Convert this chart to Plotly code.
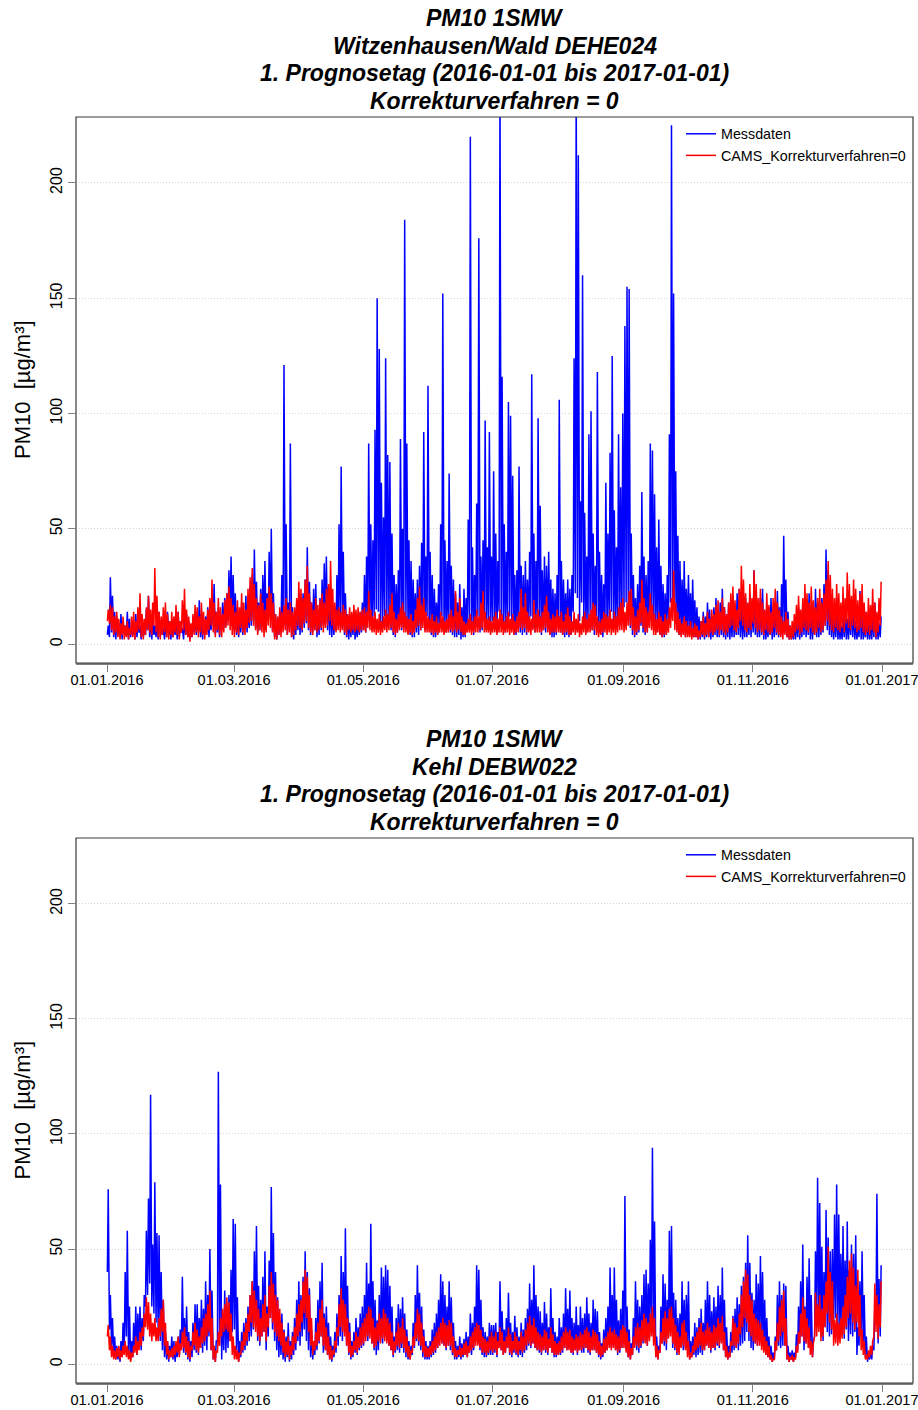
import datetime as dt
import plotly.graph_objects as go

JAHR = 2016

# ---------------------------------------------------------------------------
# Witzenhausen/Wald DEHE024: daily high / low of the hourly PM10 values,
# one inner list per month (Jan .. Dec)
# ---------------------------------------------------------------------------
mess_hoch_witz = [
    [8, 29, 21, 14, 12, 9, 13, 10, 8, 14, 11, 7, 9, 13, 10, 8, 12, 9, 15, 21, 13, 10, 8, 12, 14, 9, 7, 11, 14, 10, 9],
    [8, 12, 14, 9, 7, 11, 13, 10, 8, 12, 14, 9, 19, 13, 10, 12, 16, 11, 20, 26, 14, 16, 12, 18, 20, 22, 32, 38, 30],
    [22, 16, 13, 18, 14, 21, 16, 25, 30, 41, 27, 18, 24, 30, 36, 22, 40, 50, 22, 13, 10, 14, 30, 121, 52, 18, 87, 16, 12, 18, 22],
    [17, 22, 28, 42, 27, 18, 24, 26, 14, 20, 28, 35, 38, 25, 20, 14, 16, 30, 52, 77, 40, 22, 13, 11, 12, 14, 10, 12, 14, 18],
    [30, 38, 87, 52, 45, 93, 150, 128, 70, 55, 124, 82, 79, 48, 30, 26, 32, 89, 50, 184, 87, 45, 36, 28, 22, 28, 34, 44, 92, 38, 112],
    [40, 30, 24, 18, 26, 52, 152, 45, 36, 74, 34, 28, 22, 18, 26, 16, 24, 20, 54, 220, 42, 30, 61, 176, 38, 45, 97, 42, 92, 38],
    [75, 48, 36, 245, 116, 52, 40, 105, 99, 73, 30, 32, 77, 34, 30, 36, 28, 40, 117, 48, 36, 98, 60, 32, 38, 34, 40, 28, 24, 22, 30],
    [106, 36, 28, 22, 28, 24, 30, 124, 245, 212, 62, 160, 57, 38, 91, 101, 48, 34, 118, 40, 30, 26, 70, 48, 83, 125, 58, 42, 91, 68, 100],
    [138, 155, 154, 48, 30, 20, 26, 34, 66, 38, 30, 36, 87, 84, 65, 42, 54, 34, 26, 22, 30, 91, 225, 152, 75, 47, 36, 28, 36, 24],
    [30, 22, 28, 19, 16, 12, 10, 14, 12, 18, 15, 12, 16, 20, 14, 18, 24, 16, 12, 18, 14, 20, 16, 22, 24, 18, 14, 20, 16, 22, 18],
    [32, 22, 16, 20, 24, 14, 10, 16, 20, 14, 18, 23, 16, 26, 47, 28, 14, 8, 6, 9, 12, 16, 12, 18, 20, 15, 22, 14, 12, 24],
    [18, 15, 20, 26, 41, 32, 22, 16, 12, 18, 10, 8, 12, 16, 11, 14, 20, 16, 10, 8, 23, 12, 8, 14, 10, 9, 13, 18, 10, 9, 12],
]
mess_tief_witz = [
    [4, 3, 5, 3, 2, 4, 3, 2, 5, 4, 2, 3, 4, 2, 3, 5, 2, 3, 4, 6, 3, 2, 4, 3, 2, 3, 4, 2, 3, 4, 2],
    [3, 4, 2, 3, 5, 2, 4, 3, 2, 3, 5, 4, 6, 3, 2, 4, 5, 3, 6, 8, 4, 5, 3, 6, 7, 8, 10, 12, 8],
    [6, 4, 3, 5, 4, 6, 5, 7, 8, 10, 7, 5, 6, 8, 9, 6, 10, 12, 6, 3, 2, 4, 6, 8, 10, 4, 8, 3, 2, 4, 6],
    [4, 5, 7, 9, 6, 4, 5, 6, 3, 4, 6, 8, 9, 6, 4, 3, 4, 6, 8, 10, 7, 4, 3, 2, 3, 4, 2, 3, 4, 5],
    [6, 5, 10, 8, 6, 12, 15, 14, 8, 7, 12, 10, 9, 6, 4, 3, 5, 8, 6, 12, 10, 5, 4, 3, 3, 5, 4, 6, 10, 6, 12],
    [8, 4, 3, 3, 4, 7, 12, 6, 5, 8, 5, 4, 3, 3, 4, 2, 3, 3, 7, 10, 6, 4, 8, 12, 5, 6, 10, 6, 10, 5],
    [10, 6, 5, 14, 12, 7, 5, 10, 12, 9, 4, 4, 8, 5, 4, 5, 4, 6, 12, 7, 5, 10, 8, 4, 6, 5, 6, 4, 3, 3, 4],
    [10, 5, 4, 3, 4, 3, 4, 14, 22, 20, 10, 18, 9, 5, 10, 12, 6, 4, 12, 5, 4, 3, 8, 6, 10, 14, 8, 6, 10, 8, 12],
    [16, 18, 15, 7, 4, 3, 4, 5, 8, 5, 4, 5, 10, 10, 8, 5, 7, 4, 3, 3, 4, 10, 18, 14, 9, 6, 4, 4, 5, 3],
    [5, 4, 4, 3, 3, 2, 2, 3, 2, 3, 3, 2, 3, 4, 3, 3, 4, 3, 2, 3, 2, 3, 3, 4, 4, 3, 2, 3, 3, 4, 3],
    [5, 4, 3, 3, 4, 2, 2, 3, 4, 2, 3, 4, 3, 4, 8, 5, 3, 2, 2, 2, 2, 3, 2, 3, 4, 3, 4, 2, 2, 4],
    [3, 3, 4, 5, 8, 6, 4, 3, 2, 3, 2, 2, 2, 3, 2, 2, 4, 3, 2, 2, 3, 2, 2, 3, 2, 2, 2, 3, 2, 2, 3],
]
cams_hoch_witz = [
    [15, 17, 16, 12, 14, 11, 9, 12, 8, 10, 7, 12, 14, 10, 16, 22, 13, 11, 16, 21, 15, 18, 33, 21, 14, 12, 16, 18, 13, 10, 14],
    [12, 17, 14, 10, 19, 24, 15, 12, 9, 13, 17, 16, 12, 18, 14, 11, 15, 20, 28, 18, 14, 20, 16, 13, 19, 22, 25, 20, 17],
    [14, 19, 16, 22, 18, 15, 24, 29, 33, 26, 20, 17, 22, 18, 15, 20, 25, 22, 18, 13, 12, 16, 14, 17, 20, 15, 18, 14, 16, 20, 27],
    [24, 20, 28, 34, 22, 18, 15, 20, 17, 19, 22, 18, 24, 26, 36, 24, 18, 15, 16, 14, 17, 15, 13, 16, 14, 17, 15, 16, 14, 15],
    [16, 14, 23, 15, 12, 14, 11, 13, 10, 12, 15, 13, 17, 22, 14, 11, 13, 16, 18, 14, 12, 11, 13, 10, 15, 20, 25, 17, 20, 14, 12],
    [11, 13, 10, 12, 9, 14, 12, 10, 11, 13, 15, 12, 23, 14, 20, 12, 10, 9, 11, 13, 10, 12, 15, 12, 18, 23, 14, 11, 12, 10],
    [12, 14, 11, 15, 13, 10, 12, 14, 11, 13, 10, 12, 14, 24, 16, 22, 14, 12, 11, 19, 13, 15, 12, 14, 17, 21, 14, 11, 13, 12, 15],
    [12, 14, 10, 13, 16, 12, 10, 14, 11, 13, 9, 12, 14, 11, 13, 15, 18, 17, 12, 10, 11, 14, 13, 12, 15, 11, 14, 12, 16, 18, 20],
    [14, 18, 23, 24, 16, 12, 15, 18, 28, 20, 16, 14, 22, 17, 13, 11, 14, 12, 10, 13, 11, 16, 20, 32, 18, 14, 11, 9, 12, 10],
    [8, 10, 7, 9, 8, 6, 10, 12, 9, 14, 11, 15, 13, 17, 19, 14, 20, 16, 13, 18, 22, 25, 19, 15, 24, 34, 28, 22, 18, 26, 20],
    [32, 26, 20, 24, 18, 15, 22, 17, 14, 20, 24, 18, 15, 12, 10, 14, 11, 8, 10, 13, 17, 21, 15, 20, 26, 22, 18, 25, 19, 16],
    [20, 24, 18, 22, 28, 36, 30, 24, 20, 26, 22, 18, 25, 20, 31, 26, 21, 28, 24, 19, 22, 26, 18, 14, 20, 17, 24, 18, 14, 20, 27],
]
cams_tief_witz = [
    [10, 9, 6, 4, 5, 3, 2, 4, 2, 3, 2, 4, 3, 2, 5, 6, 3, 2, 4, 6, 5, 4, 8, 5, 3, 2, 4, 5, 3, 2, 4],
    [3, 5, 4, 2, 5, 6, 4, 3, 1, 3, 4, 5, 3, 5, 4, 2, 4, 6, 8, 5, 3, 6, 4, 3, 5, 7, 8, 6, 4],
    [3, 5, 4, 7, 5, 4, 7, 9, 10, 8, 6, 4, 6, 5, 3, 5, 8, 7, 5, 2, 2, 4, 3, 5, 6, 4, 5, 3, 4, 6, 8],
    [7, 6, 9, 10, 7, 5, 4, 6, 5, 6, 7, 5, 7, 8, 10, 8, 6, 5, 6, 5, 6, 5, 4, 6, 5, 6, 5, 6, 5, 6],
    [6, 5, 7, 6, 5, 5, 4, 5, 4, 5, 6, 5, 6, 7, 5, 4, 5, 6, 7, 5, 5, 4, 5, 4, 5, 7, 8, 6, 7, 5, 5],
    [5, 5, 4, 5, 4, 5, 5, 4, 5, 5, 6, 5, 6, 5, 6, 5, 4, 4, 5, 5, 4, 5, 5, 5, 6, 7, 5, 5, 5, 4],
    [5, 5, 4, 5, 5, 4, 5, 5, 4, 5, 4, 5, 5, 7, 6, 7, 5, 5, 4, 6, 5, 5, 5, 5, 6, 7, 5, 4, 5, 5, 5],
    [5, 5, 4, 5, 5, 4, 4, 5, 4, 5, 3, 4, 5, 4, 5, 5, 6, 6, 4, 3, 4, 5, 5, 4, 5, 4, 5, 4, 5, 6, 6],
    [5, 6, 8, 8, 6, 4, 5, 6, 9, 7, 5, 5, 7, 6, 4, 4, 5, 4, 3, 4, 4, 5, 7, 10, 6, 5, 4, 3, 4, 3],
    [3, 3, 2, 3, 3, 2, 3, 4, 3, 4, 3, 5, 4, 5, 6, 4, 6, 5, 4, 5, 7, 8, 6, 5, 7, 10, 8, 6, 5, 7, 6],
    [9, 7, 5, 6, 5, 4, 6, 5, 4, 5, 7, 5, 4, 3, 2, 4, 3, 2, 2, 3, 5, 6, 4, 5, 7, 6, 5, 7, 5, 4],
    [5, 7, 5, 6, 8, 10, 8, 6, 5, 7, 6, 5, 7, 5, 9, 7, 6, 8, 7, 5, 6, 7, 5, 4, 5, 4, 6, 5, 3, 5, 8],
]

# ---------------------------------------------------------------------------
# Kehl DEBW022: daily high / low of the hourly PM10 values, per month
# ---------------------------------------------------------------------------
mess_hoch_kehl = [
    [76, 30, 20, 12, 8, 7, 10, 18, 40, 58, 25, 10, 18, 25, 22, 25, 20, 30, 58, 72, 117, 52, 79, 57, 56, 40, 28, 14, 10, 8, 12],
    [10, 7, 12, 15, 38, 20, 25, 14, 10, 18, 26, 26, 20, 28, 24, 36, 30, 50, 32, 8, 10, 127, 78, 22, 32, 25, 30, 41, 63],
    [61, 29, 10, 14, 18, 20, 25, 30, 36, 49, 60, 34, 28, 38, 49, 25, 45, 77, 57, 40, 29, 19, 22, 15, 12, 18, 10, 14, 20, 28, 36],
    [30, 38, 49, 40, 33, 15, 8, 20, 28, 36, 44, 22, 25, 18, 12, 8, 14, 22, 30, 47, 40, 59, 34, 18, 10, 14, 20, 16, 22, 25],
    [30, 44, 35, 61, 36, 28, 19, 30, 42, 38, 43, 41, 34, 25, 12, 20, 26, 24, 29, 22, 15, 10, 8, 18, 30, 43, 31, 25, 15, 10, 8],
    [10, 15, 18, 22, 28, 39, 36, 30, 25, 36, 29, 18, 10, 8, 12, 9, 11, 14, 12, 22, 18, 25, 43, 41, 28, 16, 14, 12, 18, 17],
    [17, 18, 14, 36, 23, 15, 20, 31, 18, 14, 21, 16, 12, 18, 15, 20, 24, 35, 28, 43, 30, 25, 23, 18, 27, 22, 16, 33, 20, 14, 12],
    [20, 16, 22, 33, 24, 32, 20, 18, 25, 17, 25, 20, 22, 29, 22, 18, 28, 24, 23, 14, 9, 15, 20, 25, 42, 30, 42, 28, 19, 24, 32],
    [73, 25, 15, 9, 20, 36, 28, 25, 30, 39, 41, 35, 54, 94, 62, 12, 8, 25, 39, 35, 28, 58, 60, 31, 28, 20, 22, 36, 28, 30],
    [36, 10, 12, 18, 16, 20, 24, 18, 28, 36, 30, 23, 29, 25, 34, 30, 42, 28, 16, 8, 14, 21, 24, 29, 26, 34, 38, 44, 56, 44, 31],
    [28, 39, 35, 47, 40, 28, 20, 12, 8, 5, 12, 30, 36, 30, 35, 34, 8, 5, 6, 5, 13, 25, 36, 52, 25, 38, 46, 30, 10, 49],
    [81, 70, 51, 40, 67, 55, 49, 50, 65, 78, 65, 48, 60, 45, 62, 41, 52, 48, 56, 16, 36, 49, 30, 12, 5, 6, 8, 25, 74, 37, 43],
]
mess_tief_kehl = [
    [40, 15, 8, 4, 2, 2, 1, 3, 6, 12, 4, 2, 3, 6, 4, 8, 6, 10, 25, 30, 35, 25, 22, 18, 15, 10, 6, 3, 2, 1, 3],
    [2, 1, 3, 4, 8, 5, 4, 2, 1, 3, 6, 5, 4, 7, 5, 8, 6, 12, 6, 2, 1, 10, 8, 2, 6, 5, 7, 10, 14],
    [15, 6, 1, 3, 5, 6, 8, 10, 12, 15, 18, 10, 8, 12, 14, 6, 12, 20, 15, 10, 6, 3, 4, 2, 1, 3, 1, 2, 4, 6, 10],
    [8, 12, 15, 10, 6, 3, 2, 4, 6, 9, 12, 5, 6, 4, 2, 1, 3, 5, 8, 12, 10, 14, 8, 4, 2, 3, 5, 4, 6, 7],
    [8, 12, 10, 15, 9, 6, 4, 6, 10, 9, 12, 10, 8, 6, 3, 5, 6, 5, 7, 5, 3, 2, 2, 4, 7, 10, 8, 6, 3, 2, 2],
    [2, 3, 4, 5, 7, 10, 9, 8, 6, 8, 6, 4, 2, 2, 3, 2, 3, 4, 3, 5, 4, 6, 10, 9, 6, 4, 3, 3, 4, 4],
    [4, 5, 3, 8, 6, 4, 5, 7, 4, 3, 5, 4, 3, 4, 3, 5, 6, 8, 7, 9, 7, 6, 5, 4, 6, 5, 4, 7, 5, 3, 3],
    [4, 4, 5, 7, 6, 7, 5, 4, 6, 4, 6, 5, 5, 7, 5, 4, 6, 6, 5, 3, 2, 3, 5, 6, 9, 7, 9, 6, 4, 5, 7],
    [12, 6, 3, 2, 4, 8, 6, 5, 7, 9, 10, 8, 12, 18, 12, 3, 2, 5, 9, 8, 6, 12, 14, 7, 6, 4, 5, 8, 6, 7],
    [8, 2, 3, 4, 3, 4, 5, 4, 6, 8, 7, 5, 7, 6, 8, 7, 10, 6, 3, 2, 3, 5, 6, 7, 6, 8, 9, 10, 14, 10, 7],
    [6, 9, 8, 12, 10, 6, 4, 3, 2, 1, 2, 6, 8, 7, 8, 8, 2, 1, 2, 1, 3, 6, 9, 12, 6, 9, 11, 7, 3, 12],
    [20, 18, 12, 10, 16, 14, 12, 13, 15, 20, 16, 12, 15, 11, 15, 10, 13, 12, 14, 4, 8, 12, 8, 3, 1, 2, 2, 6, 18, 9, 12],
]
cams_hoch_kehl = [
    [17, 12, 8, 6, 7, 8, 6, 8, 10, 8, 6, 5, 8, 12, 10, 14, 16, 22, 29, 27, 22, 18, 20, 16, 20, 24, 28, 18, 10, 6, 7],
    [8, 10, 12, 9, 14, 16, 12, 10, 8, 14, 18, 15, 12, 16, 20, 22, 26, 32, 20, 8, 6, 14, 20, 24, 26, 29, 27, 22, 12],
    [8, 6, 5, 10, 14, 18, 22, 30, 36, 32, 28, 24, 20, 26, 30, 22, 34, 40, 35, 30, 28, 24, 18, 14, 10, 12, 8, 12, 16, 22, 26],
    [28, 36, 41, 38, 30, 20, 10, 14, 18, 24, 28, 20, 16, 12, 8, 6, 10, 16, 26, 33, 28, 26, 20, 14, 8, 10, 14, 12, 16, 18],
    [20, 22, 25, 24, 20, 16, 18, 22, 20, 24, 22, 20, 18, 14, 10, 14, 18, 16, 20, 15, 12, 8, 6, 12, 18, 24, 22, 18, 12, 8, 7],
    [8, 10, 12, 14, 16, 18, 20, 18, 17, 19, 18, 12, 7, 6, 8, 7, 9, 10, 8, 12, 14, 16, 18, 17, 15, 12, 11, 10, 12, 14],
    [12, 14, 10, 16, 14, 10, 12, 16, 13, 10, 14, 12, 10, 14, 12, 15, 18, 21, 17, 20, 16, 14, 13, 12, 15, 14, 11, 16, 13, 10, 9],
    [10, 12, 14, 16, 14, 15, 12, 11, 13, 12, 14, 13, 15, 16, 14, 12, 15, 14, 13, 10, 8, 11, 12, 14, 16, 14, 15, 13, 12, 15, 17],
    [16, 14, 10, 7, 12, 16, 18, 16, 19, 22, 20, 18, 22, 25, 20, 8, 6, 14, 20, 23, 20, 24, 25, 20, 17, 14, 12, 18, 19, 14],
    [10, 5, 8, 12, 14, 16, 18, 14, 15, 18, 16, 14, 17, 16, 20, 18, 21, 14, 8, 5, 10, 20, 18, 16, 22, 30, 36, 41, 39, 30, 28],
    [22, 20, 19, 18, 15, 12, 10, 8, 4, 2, 10, 18, 25, 28, 32, 20, 4, 3, 4, 3, 8, 14, 22, 29, 24, 20, 16, 10, 9, 31],
    [26, 30, 24, 30, 36, 51, 40, 36, 19, 22, 18, 20, 25, 30, 38, 45, 48, 42, 34, 41, 30, 15, 10, 4, 6, 8, 10, 35, 30, 26, 36],
]
cams_tief_kehl = [
    [12, 6, 3, 2, 2, 3, 2, 3, 4, 3, 2, 1, 3, 5, 4, 6, 8, 12, 16, 15, 12, 10, 12, 10, 10, 12, 14, 8, 4, 2, 3],
    [3, 4, 5, 3, 6, 7, 5, 3, 2, 6, 8, 6, 5, 7, 9, 10, 12, 14, 6, 2, 1, 5, 8, 12, 14, 15, 14, 10, 4],
    [2, 2, 1, 4, 6, 8, 10, 14, 18, 16, 14, 12, 10, 12, 14, 10, 16, 20, 18, 14, 12, 10, 8, 5, 3, 4, 2, 4, 6, 9, 12],
    [14, 18, 22, 20, 14, 8, 4, 6, 8, 10, 12, 8, 6, 4, 2, 2, 4, 7, 12, 16, 14, 12, 8, 5, 3, 4, 6, 5, 7, 8],
    [9, 10, 12, 11, 9, 7, 8, 10, 9, 11, 10, 9, 8, 6, 4, 6, 8, 7, 9, 7, 5, 3, 2, 5, 8, 11, 10, 8, 5, 3, 3],
    [3, 4, 5, 6, 7, 8, 9, 8, 7, 8, 8, 5, 3, 3, 4, 3, 4, 4, 3, 5, 6, 7, 8, 8, 7, 5, 5, 4, 5, 6],
    [5, 6, 4, 7, 6, 4, 5, 7, 5, 4, 6, 5, 4, 6, 5, 6, 8, 9, 8, 9, 7, 6, 6, 5, 6, 6, 5, 7, 5, 4, 4],
    [4, 5, 6, 7, 6, 6, 5, 5, 6, 5, 6, 6, 7, 7, 6, 5, 6, 6, 5, 4, 3, 4, 5, 6, 7, 6, 7, 6, 5, 6, 7],
    [7, 5, 3, 2, 4, 7, 8, 7, 8, 10, 9, 8, 10, 12, 8, 3, 2, 5, 9, 10, 9, 11, 12, 9, 7, 5, 4, 7, 8, 6],
    [3, 2, 3, 5, 6, 7, 8, 6, 6, 8, 7, 6, 7, 7, 9, 8, 9, 6, 3, 2, 3, 8, 8, 7, 9, 13, 16, 20, 18, 14, 12],
    [10, 9, 8, 8, 6, 5, 4, 3, 2, 1, 2, 6, 10, 12, 14, 8, 2, 1, 2, 1, 2, 5, 9, 12, 10, 9, 7, 4, 3, 12],
    [12, 14, 10, 12, 16, 22, 18, 15, 8, 9, 8, 9, 11, 13, 16, 20, 22, 18, 15, 18, 12, 6, 4, 2, 2, 3, 4, 12, 14, 11, 16],
]

# axis ticks and texts
x_ticks = ["2016-01-01", "2016-03-01", "2016-05-01", "2016-07-01", "2016-09-01", "2016-11-01", "2017-01-01"]
x_ticktext = ["01.01.2016", "01.03.2016", "01.05.2016", "01.07.2016", "01.09.2016", "01.11.2016", "01.01.2017"]
y_ticks = [0, 50, 100, 150, 200]
y_range = [-8.2, 228.6]

serien_namen = ["Messdaten", "CAMS_Korrekturverfahren=0"]
titel_witz = ["PM10 1SMW", "Witzenhausen/Wald DEHE024",
              "1. Prognosetag (2016-01-01 bis 2017-01-01)", "Korrekturverfahren = 0"]
titel_kehl = ["PM10 1SMW", "Kehl DEBW022",
              "1. Prognosetag (2016-01-01 bis 2017-01-01)", "Korrekturverfahren = 0"]
y_titel = "PM10\u00a0 [µg/m³]"

FONT = "Liberation Sans, Arial, Helvetica, sans-serif"
W, H = 918, 1410


def tagesreihe(hoch, tief):
    """Turn monthly lists of daily low/high into one zig-zag time series."""
    xs, ys = [], []
    for monat, (h_mon, t_mon) in enumerate(zip(hoch, tief), start=1):
        start = dt.datetime(JAHR, monat, 1)
        for i, (h, t) in enumerate(zip(h_mon, t_mon)):
            tag = start + dt.timedelta(days=i)
            xs += [tag + dt.timedelta(hours=4), tag + dt.timedelta(hours=14)]
            ys += [t, h]
    return xs, ys


# x range: the data period padded by 4 % on either side
t0 = dt.datetime(2016, 1, 1)
t1 = dt.datetime(2017, 1, 1)
pad = (t1 - t0) * 0.04
x_range = [t0 - pad, t1 + pad]

# panel geometry in pixels (left, right, top, bottom)
PL, PR = 76, 913
panels = [(117, 663), (838, 1383)]


def px_x(v):
    return v / W


def px_y(v):
    return 1 - v / H


fig = go.Figure()

daten = [
    (mess_hoch_witz, mess_tief_witz, cams_hoch_witz, cams_tief_witz),
    (mess_hoch_kehl, mess_tief_kehl, cams_hoch_kehl, cams_tief_kehl),
]

for k, (mh, mt, ch, ct) in enumerate(daten):
    xa = "x" if k == 0 else "x2"
    ya = "y" if k == 0 else "y2"
    leg = "legend" if k == 0 else "legend2"
    xm, ym = tagesreihe(mh, mt)
    xc, yc = tagesreihe(ch, ct)
    fig.add_trace(go.Scatter(x=xm, y=ym, mode="lines", name=serien_namen[0],
                             line=dict(color="#0000FF", width=1.5),
                             xaxis=xa, yaxis=ya, legend=leg))
    fig.add_trace(go.Scatter(x=xc, y=yc, mode="lines", name=serien_namen[1],
                             line=dict(color="#FF0000", width=1.5),
                             xaxis=xa, yaxis=ya, legend=leg))

achsen = {}
for k, (top, bottom) in enumerate(panels):
    sx = "xaxis" if k == 0 else "xaxis2"
    sy = "yaxis" if k == 0 else "yaxis2"
    achsen[sx] = dict(
        type="date", range=x_range, domain=[px_x(PL), px_x(PR)],
        anchor="y" if k == 0 else "y2",
        tickvals=x_ticks, ticktext=x_ticktext,
        ticks="outside", ticklen=7, tickwidth=1, tickcolor="#808080",
        ticklabelstandoff=-4, ticklabeloverflow="allow",
        tickfont=dict(family=FONT, size=14.6, color="#000000"),
        showgrid=False, zeroline=False,
        showline=True, linecolor="#808080", linewidth=1.5,
    )
    achsen[sy] = dict(
        range=y_range, domain=[px_y(bottom), px_y(top)],
        anchor="x" if k == 0 else "x2",
        tickvals=y_ticks, tickangle=-90,
        ticks="outside", ticklen=7, tickwidth=1, tickcolor="#808080",
        tickfont=dict(family=FONT, size=16, color="#000000"),
        showgrid=True, gridcolor="#d4d4d4", gridwidth=1, griddash="1px,2px",
        zeroline=False, showline=False,
    )

annotations = []
for k, (top, bottom) in enumerate(panels):
    zeilen = titel_witz if k == 0 else titel_kehl
    for j, txt in enumerate(zeilen):
        annotations.append(dict(
            text=txt, xref="paper", yref="paper",
            x=px_x((PL + PR) / 2), y=px_y(top - 99 + j * 27.7),
            xanchor="center", yanchor="middle", showarrow=False,
            font=dict(family=FONT, size=23, color="#000000", weight="bold", style="italic"),
        ))
    annotations.append(dict(
        text=y_titel, xref="paper", yref="paper",
        x=px_x(22), y=px_y((top + bottom) / 2),
        xanchor="center", yanchor="middle", textangle=-90, showarrow=False,
        font=dict(family=FONT, size=22, color="#000000"),
    ))

shapes = []
for k in range(2):
    sfx = "" if k == 0 else "2"
    shapes.append(dict(type="rect", xref=f"x{sfx} domain", yref=f"y{sfx} domain",
                       x0=0, x1=1, y0=0, y1=1, layer="above",
                       line=dict(color="#3a3a3a", width=1.2)))

legende = dict(
    xanchor="left", yanchor="top", bgcolor="rgba(0,0,0,0)", borderwidth=0,
    font=dict(family=FONT, size=14.3, color="#000000"),
    itemwidth=30, tracegroupgap=0, orientation="v",
)

fig.update_layout(
    width=W, height=H, template="none",
    margin=dict(l=0, r=0, t=0, b=0),
    paper_bgcolor="#FFFFFF", plot_bgcolor="#FFFFFF",
    font=dict(family=FONT, color="#000000"),
    showlegend=True,
    legend=dict(legende, x=px_x(681), y=px_y(118)),
    legend2=dict(legende, x=px_x(681), y=px_y(118 + panels[1][0] - panels[0][0])),
    annotations=annotations, shapes=shapes,
    **achsen,
)

fig.write_html("out.html")
